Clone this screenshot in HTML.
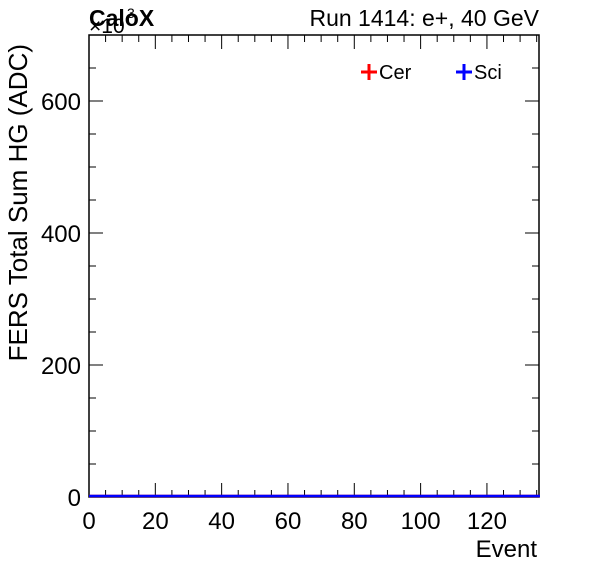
<!DOCTYPE html>
<html><head><meta charset="utf-8"><style>
html,body{margin:0;padding:0;background:#fff;}
svg{display:block;font-family:"Liberation Sans",sans-serif;}
</style></head><body>
<svg id="chart" width="596" height="572" xmlns="http://www.w3.org/2000/svg">
<rect width="596" height="572" fill="#fff"/>
</svg>
<script>
const xTicks=[0,20,40,60,80,100,120];
const yTicks=[0,200,400,600];
const cerValues=[1.5,1.5,1.5,1.5,1.5,1.5,1.5,1.5,1.5,1.5,1.5,1.5,1.5,1.5,1.5,1.5,1.5,1.5,1.5,1.5,1.5,1.5,1.5,1.5,1.5,1.5,1.5,1.5,1.5,1.5,1.5,1.5,1.5,1.5,1.5,1.5,1.5,1.5,1.5,1.5,1.5,1.5,1.5,1.5,1.5,1.5,1.5,1.5,1.5,1.5,1.5,1.5,1.5,1.5,1.5,1.5,1.5,1.5,1.5,1.5,1.5,1.5,1.5,1.5,1.5,1.5,1.5,1.5,1.5,1.5,1.5,1.5,1.5,1.5,1.5,1.5,1.5,1.5,1.5,1.5,1.5,1.5,1.5,1.5,1.5,1.5,1.5,1.5,1.5,1.5,1.5,1.5,1.5,1.5,1.5,1.5,1.5,1.5,1.5,1.5,1.5,1.5,1.5,1.5,1.5,1.5,1.5,1.5,1.5,1.5,1.5,1.5,1.5,1.5,1.5,1.5,1.5,1.5,1.5,1.5,1.5,1.5,1.5,1.5,1.5,1.5,1.5,1.5,1.5,1.5,1.5,1.5,1.5,1.5,1.5,1.5];
const sciValues=[1.5,1.5,1.5,1.5,1.5,1.5,1.5,1.5,1.5,1.5,1.5,1.5,1.5,1.5,1.5,1.5,1.5,1.5,1.5,1.5,1.5,1.5,1.5,1.5,1.5,1.5,1.5,1.5,1.5,1.5,1.5,1.5,1.5,1.5,1.5,1.5,1.5,1.5,1.5,1.5,1.5,1.5,1.5,1.5,1.5,1.5,1.5,1.5,1.5,1.5,1.5,1.5,1.5,1.5,1.5,1.5,1.5,1.5,1.5,1.5,1.5,1.5,1.5,1.5,1.5,1.5,1.5,1.5,1.5,1.5,1.5,1.5,1.5,1.5,1.5,1.5,1.5,1.5,1.5,1.5,1.5,1.5,1.5,1.5,1.5,1.5,1.5,1.5,1.5,1.5,1.5,1.5,1.5,1.5,1.5,1.5,1.5,1.5,1.5,1.5,1.5,1.5,1.5,1.5,1.5,1.5,1.5,1.5,1.5,1.5,1.5,1.5,1.5,1.5,1.5,1.5,1.5,1.5,1.5,1.5,1.5,1.5,1.5,1.5,1.5,1.5,1.5,1.5,1.5,1.5,1.5,1.5,1.5,1.5,1.5,1.5];

const NS="http://www.w3.org/2000/svg";
const svg=document.getElementById('chart');
const L=89,R=539,T=35,B=497,XMAX=135.7,YMAX=700;
const xs=v=>L+(v/XMAX)*(R-L);
const ys=v=>B-(v/YMAX)*(B-T);
function mk(tag,attrs,text){const e=document.createElementNS(NS,tag);for(const k in attrs)e.setAttribute(k,attrs[k]);if(text!=null)e.textContent=text;svg.appendChild(e);return e;}

for(let v=0;v<=XMAX;v+=5){
  const major=v%20===0, len=major?14:7, x=xs(v);
  const t1=mk('line',{x1:x,x2:x,y1:B,y2:B-len,stroke:'#000','stroke-width':1});
  
  
  const t2=mk('line',{x1:x,x2:x,y1:T,y2:T+len,stroke:'#000','stroke-width':1});
  
  
}
for(let v=0;v<=YMAX;v+=50){
  const major=v%200===0, len=major?14:7, y=ys(v);
  const t1=mk('line',{x1:L,x2:L+len,y1:y,y2:y,stroke:'#000','stroke-width':1});
  
  
  const t2=mk('line',{x1:R,x2:R-len,y1:y,y2:y,stroke:'#000','stroke-width':1});
  
  
}
xTicks.forEach(v=>{
  const t=mk('text',{x:xs(v),y:529,'font-size':24,'text-anchor':'middle'},String(v));
  
  
});
yTicks.forEach(v=>{
  const t=mk('text',{x:81,y:ys(v)+9,'font-size':24,'text-anchor':'end'},String(v));
  
  
});

const f=mk('rect',{x:L,y:T,width:R-L,height:B-T,fill:'none',stroke:'#000','stroke-width':1.5});



function series(vals,color,name){
  const d=vals.map((v,i)=>(i?'L':'M')+xs(i)+','+ys(v)).join(' ')+' L'+xs(vals.length)+','+ys(vals[vals.length-1]);
  const p=mk('path',{d:d,fill:'none',stroke:color,'stroke-width':2.5});
  
  
}
series(cerValues,'#ff0000','cer-line');
series(sciValues,'#0000ff','sci-line');

let e;
e=mk('text',{x:537,y:557,'font-size':24,'text-anchor':'end'},'Event');

e=mk('text',{x:0,y:0,'font-size':26,'text-anchor':'end',transform:'translate(27,44) rotate(-90)'},'FERS Total Sum HG (ADC)');

e=mk('text',{x:89,y:33,'font-size':21},'×10');

e=mk('text',{x:127,y:18,'font-size':14},'3');

e=mk('text',{x:89,y:26,'font-size':23,'font-weight':'bold'},'CaloX');

e=mk('text',{x:539,y:26,'font-size':23,'text-anchor':'end'},'Run 1414: e+, 40 GeV');


function legend(x,color,label,name){
  const g=document.createElementNS(NS,'g');svg.appendChild(g);
  
  
  const a=document.createElementNS(NS,'path');
  a.setAttribute('d',`M${x-8},72 H${x+8} M${x},64 V80`);
  a.setAttribute('stroke',color);a.setAttribute('stroke-width',3);
  g.appendChild(a);
  const t=document.createElementNS(NS,'text');
  t.setAttribute('x',x+10);t.setAttribute('y',79);t.setAttribute('font-size',20);
  t.textContent=label;g.appendChild(t);
}
legend(369,'#ff0000','Cer','legend-cer');
legend(464,'#0000ff','Sci','legend-sci');
</script>
</body></html>
